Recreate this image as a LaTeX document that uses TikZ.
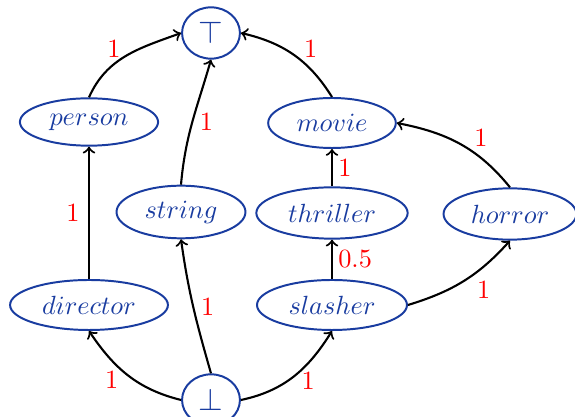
\documentclass[tikz,border=0pt]{standalone}
\usetikzlibrary{shapes.geometric}
\definecolor{nodeblue}{RGB}{25,60,160}
\begin{document}
\begin{tikzpicture}[x=0.38pt,y=0.38pt,
  concept/.style={ellipse,draw=nodeblue,line width=0.75pt,text=nodeblue,inner sep=0pt},
  limit/.style={concept,minimum width=22pt,minimum height=19.5pt,font=\fontsize{11.5}{13}\selectfont},
  edge/.style={->,line width=0.8pt},
  lbl/.style={text=red,inner sep=1pt}]
\useasboundingbox (0,0) rectangle (575,417);
\node[limit] (top) at (211,384) {$\top$};
\node[concept,minimum width=52.5pt,minimum height=18pt] (person) at (89,295) {$person$};
\node[concept,minimum width=49pt,minimum height=20pt] (string) at (181,205) {$string$};
\node[concept,minimum width=48.5pt,minimum height=19pt] (movie) at (332,294) {$movie$};
\node[concept,minimum width=57.5pt,minimum height=19.5pt] (thriller) at (332,204) {$thriller$};
\node[concept,minimum width=50.5pt,minimum height=19.5pt] (horror) at (510,203) {$horror$};
\node[concept,minimum width=60pt,minimum height=19pt] (director) at (89,112) {$director$};
\node[concept,minimum width=57pt,minimum height=19pt] (slasher) at (332,112) {$slasher$};
\node[limit] (bot) at (211,17) {$\bot$};

\draw[edge] (person.north) to[out=66,in=200] node[lbl,pos=0.4,above left,xshift=2.7pt] (l1) {1} (top.west);
\draw[edge] (string.north) to[out=85,in=-106] node[lbl,pos=0.45,right=2pt,yshift=2pt] (l2) {1} (top.south);
\draw[edge] (movie.north) to[out=122,in=-13] node[lbl,pos=0.4,above right,xshift=-0.7pt] (l3) {1} (top.east);
\draw[edge] (director.north) -- node[lbl,left=2.2pt] (l4) {1} (person.south);
\draw[edge] (thriller.north) -- node[lbl,right=1pt] (l5) {1} (movie.south);
\draw[edge] (horror.north) to[out=129,in=-11] node[lbl,pos=0.4,above right] (l6) {1} (movie.east);
\draw[edge] (slasher.north) -- node[lbl,right=1pt] (l7) {0.5} (thriller.south);
\draw[edge] (slasher.east) to[out=17,in=-132] node[lbl,pos=0.6,below right,yshift=-1pt] (l8) {1} (horror.south);
\draw[edge] (bot.west) to[out=166,in=-56] node[lbl,pos=0.5,below left,xshift=-2.3pt,yshift=3pt] (l9) {1} (director.south);
\draw[edge] (bot.north) to[out=106,in=-82] node[lbl,pos=0.45,right=1pt,yshift=2.3pt] (l10) {1} (string.south);
\draw[edge] (bot.east) to[out=12,in=-122] node[lbl,pos=0.5,below right,xshift=1.5pt,yshift=3pt] (l11) {1} (slasher.south);
\end{tikzpicture}
\end{document}
